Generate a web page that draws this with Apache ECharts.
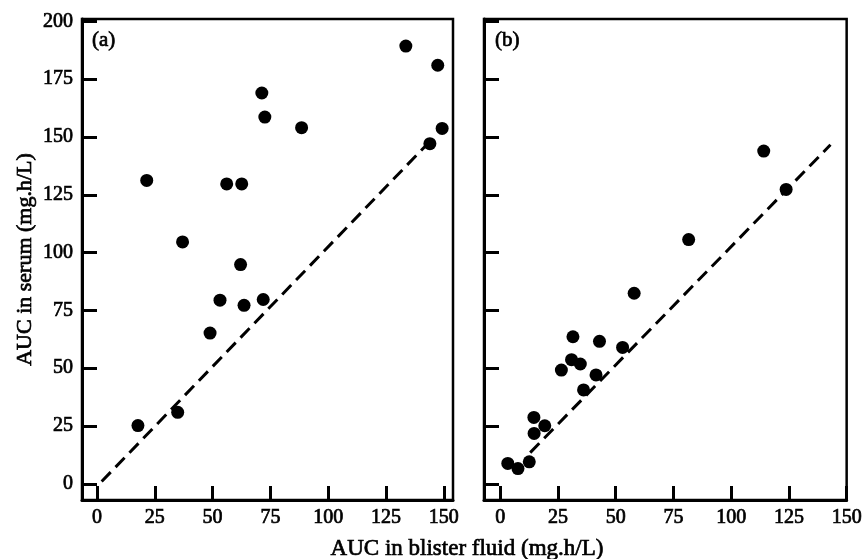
<!DOCTYPE html>
<html>
<head>
<meta charset="utf-8">
<title>AUC serum vs blister fluid</title>
<script src="https://cdn.jsdelivr.net/npm/echarts@6/dist/echarts.min.js"></script>
<style>
  html, body { margin: 0; padding: 0; background: #fff; }
  #main { width: 865px; height: 559px; }
</style>
</head>
<body>
<div id="main"></div>
<script>
// panel (a): [blister fluid AUC, serum AUC]
var panelA = [
  [17.7, 25.2], [34.9, 30.9], [21.5, 131.2], [37.0, 104.6], [48.9, 65.2],
  [53.2, 79.4], [56.1, 129.7], [62.6, 129.7], [62.1, 94.8], [63.6, 77.2],
  [71.3, 169.0], [72.6, 158.6], [71.9, 79.7], [88.5, 154.0], [133.6, 189.3],
  [147.4, 181.0], [144.0, 147.1], [149.3, 153.7]
];
// panel (b)
var panelB = [
  [3.3, 8.8], [7.7, 6.6], [12.6, 9.5], [14.6, 28.7], [14.7, 21.8],
  [19.3, 25.1], [26.5, 49.2], [31.5, 63.6], [30.9, 53.7], [34.7, 51.8],
  [36.1, 40.6], [41.5, 47.1], [43.0, 61.6], [53.0, 59.0], [58.0, 82.4],
  [81.6, 105.6], [114.1, 143.9], [123.8, 127.3]
];
// line of identity drawn in each panel
var lineA = [[2, 1], [142, 146]];
var lineB = [[13, 13.5], [143, 146.6]];

var xTicks = [0, 25, 50, 75, 100, 125, 150];
var yTicks = [0, 25, 50, 75, 100, 125, 150, 175, 200];

var font = 'Liberation Serif, Times New Roman, serif';
// scanned print looks heavy: thicken regular glyphs a little
var ink = { color: '#000', fontFamily: font, textBorderColor: '#000', textBorderWidth: 0.7 };

function xAxis(idx, min, max) {
  return {
    type: 'value', gridIndex: idx, min: min, max: max,
    splitLine: { show: false },
    axisLine: { onZero: false, lineStyle: { color: '#000', width: 3 } },
    axisTick: { inside: true, length: 14, customValues: xTicks,
      lineStyle: { color: '#000', width: 3 } },
    axisLabel: Object.assign({ customValues: xTicks, margin: 8, fontSize: 20 }, ink)
  };
}
function yAxis(idx, showLabel) {
  var ax = {
    type: 'value', gridIndex: idx, min: -7, max: 201,
    splitLine: { show: false },
    axisLine: { onZero: false, lineStyle: { color: '#000', width: 3 } },
    axisTick: { inside: true, length: 15, customValues: yTicks,
      lineStyle: { color: '#000', width: 3 } },
    axisLabel: Object.assign({ show: showLabel, customValues: yTicks, margin: 9, fontSize: 20 }, ink)
  };
  if (showLabel) {
    ax.name = 'AUC in serum (mg.h/L)';
    ax.nameLocation = 'middle';
    ax.nameGap = 46;
    ax.nameTextStyle = Object.assign({ fontSize: 22 }, ink);
  }
  return ax;
}

var chart = echarts.init(document.getElementById('main'));
chart.setOption({
  animation: false,
  backgroundColor: '#fff',
  title: [
    { text: '(a)', left: 87, top: 25, textStyle: Object.assign({ fontSize: 21, fontWeight: 'normal' }, ink) },
    { text: '(b)', left: 490, top: 25, textStyle: Object.assign({ fontSize: 21, fontWeight: 'normal' }, ink) }
  ],
  graphic: [{
    type: 'text', x: 467, y: 549,
    style: { text: 'AUC in blister fluid (mg.h/L)', fill: '#000', font: '23px ' + font,
      stroke: '#000', lineWidth: 0.7, textAlign: 'center', textVerticalAlign: 'middle' }
  }],
  grid: [
    { left: 82, top: 19, width: 371, height: 481, show: true, borderColor: '#000', borderWidth: 2.5 },
    { left: 484, top: 19, width: 364, height: 481, show: true, borderColor: '#000', borderWidth: 2.5 }
  ],
  xAxis: [xAxis(0, -6.5, 154), xAxis(1, -7, 150)],
  yAxis: [yAxis(0, true), yAxis(1, false)],
  series: [
    { type: 'line', xAxisIndex: 0, yAxisIndex: 0, data: lineA, symbol: 'none',
      lineStyle: { color: '#000', width: 3, type: [13, 7] }, z: 2 },
    { type: 'line', xAxisIndex: 1, yAxisIndex: 1, data: lineB, symbol: 'none',
      lineStyle: { color: '#000', width: 3, type: [13, 7] }, z: 2 },
    { type: 'scatter', xAxisIndex: 0, yAxisIndex: 0, data: panelA, symbolSize: 13,
      itemStyle: { color: '#000', opacity: 1 }, z: 3 },
    { type: 'scatter', xAxisIndex: 1, yAxisIndex: 1, data: panelB, symbolSize: 13,
      itemStyle: { color: '#000', opacity: 1 }, z: 3 }
  ]
});
</script>
</body>
</html>
